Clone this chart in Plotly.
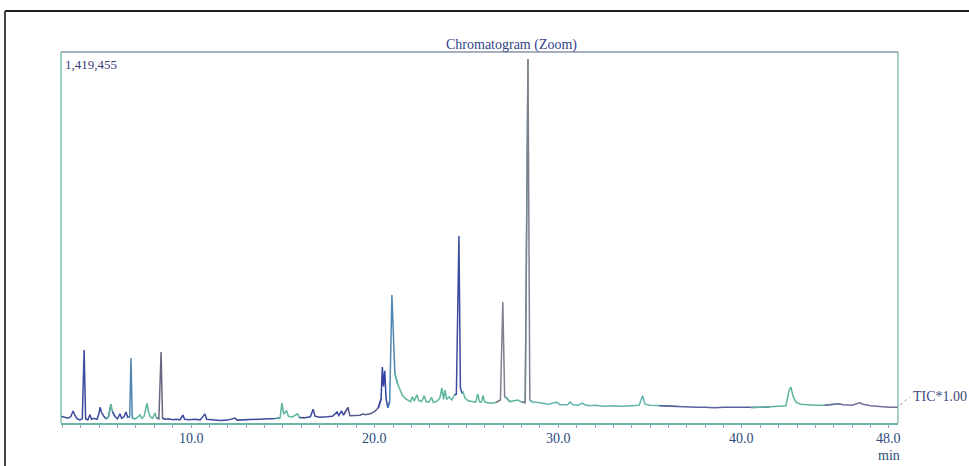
import plotly.graph_objects as go

# ---------------- data ----------------
# retention time in minutes
rt_min = [
    2.92, 3.1, 3.3, 3.45, 3.58, 3.68, 3.8, 3.95, 4.08, 4.18, 4.26, 4.38, 4.5, 4.58, 4.72, 4.88,
    4.98, 5.05, 5.12, 5.25, 5.38, 5.5, 5.64, 5.72, 5.85, 6.0, 6.13, 6.22, 6.35, 6.46, 6.55, 6.66,
    6.73, 6.8, 6.95, 7.1, 7.22, 7.32, 7.45, 7.6, 7.68, 7.78, 7.9, 8.04, 8.12, 8.25, 8.37, 8.45,
    8.6, 8.8, 9.0, 9.2, 9.4, 9.56, 9.65, 9.9, 10.2, 10.5, 10.76, 10.85, 11.2, 11.6, 12.0, 12.4,
    12.5, 13.0, 13.4, 13.8, 14.2, 14.6, 14.85, 14.95, 15.05, 15.2, 15.3, 15.5, 15.8, 15.9, 16.2,
    16.5, 16.65, 16.75, 17.0, 17.4, 17.7, 17.95, 18.05, 18.2, 18.3, 18.55, 18.65, 18.9, 19.2,
    19.36, 19.5, 19.8, 20.0, 20.2, 20.35, 20.42, 20.48, 20.55, 20.62, 20.72, 20.82, 20.94, 21.02,
    21.1, 21.25, 21.5, 21.7, 21.95, 22.05, 22.15, 22.3, 22.4, 22.55, 22.7, 22.8, 22.95, 23.1,
    23.2, 23.4, 23.55, 23.66, 23.75, 23.83, 23.92, 24.05, 24.2, 24.35, 24.45, 24.59, 24.67, 24.75,
    24.82, 24.92, 25.1, 25.3, 25.5, 25.62, 25.7, 25.82, 25.9, 26.0, 26.3, 26.6, 26.85, 26.98,
    27.08, 27.2, 27.35, 27.6, 27.8, 28.0, 28.2, 28.35, 28.45, 28.6, 28.9, 29.2, 29.5, 29.9, 30.1,
    30.5, 30.65, 30.8, 31.1, 31.3, 31.45, 31.7, 32.0, 32.5, 33.0, 33.5, 34.0, 34.4, 34.6, 34.72,
    35.0, 35.5, 36.0, 36.5, 37.0, 37.5, 38.0, 38.5, 39.0, 39.5, 40.0, 40.5, 41.0, 41.5, 42.0,
    42.4, 42.55, 42.66, 42.8, 42.95, 43.2, 43.5, 44.0, 44.5, 45.0, 45.3, 45.5, 46.0, 46.4, 46.6,
    47.0, 47.5, 48.0, 48.5,
]
# total ion current, thousands of counts
tic_k = [
    26, 22, 18, 24, 46, 29, 16, 12, 16, 279, 16, 12, 32, 14, 18, 14,
    34, 60, 42, 26, 16, 22, 72, 44, 26, 16, 35, 18, 24, 42, 22, 24,
    249, 19, 16, 22, 31, 18, 26, 76, 44, 24, 18, 38, 20, 16, 272, 18,
    14, 16, 12, 14, 12, 31, 14, 12, 14, 12, 35, 14, 12, 10, 11, 19,
    11, 12, 14, 13, 15, 17, 20, 76, 34, 48, 26, 22, 35, 21, 20,
    24, 53, 26, 22, 24, 26, 42, 29, 46, 30, 60, 28, 28, 30,
    34, 32, 36, 44, 58, 92, 214, 140, 200, 95, 58, 82, 490, 300,
    190, 150, 107, 92, 82, 100, 84, 108, 86, 82, 104, 82, 80, 98,
    78, 84, 95, 134, 90, 126, 90, 100, 88, 108, 110, 715, 134, 115,
    118, 95, 85, 82, 80, 111, 82, 80, 105, 80, 76, 78, 88, 463,
    100, 95, 82, 84, 88, 80, 78, 1393, 88, 80, 78, 74, 72, 80, 70,
    70, 80, 70, 68, 76, 70, 66, 68, 64, 66, 64, 66, 68, 104, 72,
    68, 66, 64, 64, 62, 60, 60, 58, 60, 60, 60, 58, 60, 60, 62,
    66, 120, 138, 100, 80, 72, 70, 68, 68, 70, 74, 70, 68, 77, 72,
    66, 62, 60, 60,
]
y_max = 1419455
tick_vals = [5, 10, 15, 20, 25, 30, 35, 40, 45, 48]
tick_text = ["", "10.0", "", "20.0", "", "30.0", "", "40.0", "", "48.0"]

# ---------------- style ----------------
BLUE = "#3c4b9e"
TEAL = "#5db59f"
GRAY = "#7f7f8e"
MIX = "#4f86b2"
PURP = "#5a5f9e"
segments = [
    (2.9, 4.3, BLUE), (4.3, 5.5, BLUE), (5.5, 5.8, TEAL), (5.8, 6.6, BLUE),
    (6.6, 6.9, MIX), (6.9, 8.2, TEAL), (8.2, 8.5, "#6a6680"), (8.5, 14.8, BLUE),
    (14.8, 16.0, TEAL), (16.0, 18.5, BLUE), (18.5, 20.3, "#555a8a"),
    (20.3, 20.8, "#3341a0"), (20.8, 21.2, MIX), (21.2, 24.4, TEAL),
    (24.4, 24.8, BLUE), (24.8, 26.8, TEAL), (26.8, 27.2, GRAY), (27.2, 28.2, TEAL),
    (28.2, 28.5, GRAY), (28.5, 36.0, "#62b3ac"), (36.0, 41.0, PURP),
    (41.0, 45.0, TEAL), (45.0, 48.6, "#6c6f9a"),
]

tic = [v * 1000 for v in tic_k]

fig = go.Figure()
for t0, t1, col in segments:
    idx = [i for i, t in enumerate(rt_min) if t0 <= t <= t1]
    if not idx:
        continue
    lo = max(idx[0] - 1, 0)
    hi = min(idx[-1] + 1, len(rt_min) - 1)
    fig.add_trace(go.Scatter(
        x=rt_min[lo:hi + 1], y=tic[lo:hi + 1], mode="lines",
        line=dict(color=col, width=1.5), hoverinfo="skip", showlegend=False,
    ))

# body margin is removed by post_script, so screen pixels == figure pixels
W, H = 969, 466
L, R, T, B = 61, 898, 52, 423
pw, ph = R - L, B - T


def px(x):
    return (x - L) / pw


def py(y):
    return (B - y) / ph


serif = "Liberation Serif, Times New Roman, serif"
fig.update_layout(
    width=W, height=H,
    margin=dict(l=L, r=W - R, t=T, b=H - B),
    paper_bgcolor="white", plot_bgcolor="white",
    showlegend=False,
    xaxis=dict(
        range=[2.92, 48.5], showgrid=False, zeroline=False,
        showline=True, linecolor="#6db3a6", linewidth=1.5,
        ticks="outside", ticklen=6, tickwidth=1, tickcolor="#7a9ab0",
        tickvals=tick_vals, ticktext=[""] * len(tick_vals), showticklabels=False,
        minor=dict(ticks="outside", ticklen=3, tickcolor="#8aa8b8", dtick=1, tick0=0),
    ),
    yaxis=dict(range=[0, y_max], showgrid=False, zeroline=False, showticklabels=False,
               ticks="", showline=False),
)

shapes = [
    # plot frame: top, left, right
    dict(type="line", xref="paper", yref="paper", x0=0, x1=1, y0=1, y1=1,
         line=dict(color="#8a96aa", width=1.3)),
    dict(type="line", xref="paper", yref="paper", x0=0, x1=0, y0=0, y1=1,
         line=dict(color="#6dbaa4", width=1.3)),
    dict(type="line", xref="paper", yref="paper", x0=1, x1=1, y0=0, y1=1,
         line=dict(color="#7fb5aa", width=1.3)),
    # outer scan border
    dict(type="line", xref="paper", yref="paper", x0=px(5), x1=px(969), y0=py(11), y1=py(11),
         line=dict(color="#1e1e1e", width=2)),
    dict(type="line", xref="paper", yref="paper", x0=px(5), x1=px(5), y0=py(11), y1=py(466),
         line=dict(color="#444444", width=2)),
    # TIC leader
    dict(type="line", xref="paper", yref="paper", x0=px(900), x1=px(910), y0=py(405), y1=py(397),
         line=dict(color="#9a9a9a", width=1, dash="dot")),
]
fig.update_layout(shapes=shapes)

for tv, tt in zip(tick_vals, tick_text):
    if tt:
        fig.add_annotation(text=tt, xref="x", yref="paper", x=tv, y=py(438),
                           xanchor="center", yanchor="middle", showarrow=False,
                           font=dict(family=serif, size=14, color="#2e4c7c"))

fig.add_annotation(text="Chromatogram (Zoom)", xref="paper", yref="paper",
                   x=px(511), y=py(45), xanchor="center", yanchor="middle", showarrow=False,
                   font=dict(family=serif, size=14, color="#33428a"))
fig.add_annotation(text="1,419,455", xref="paper", yref="paper",
                   x=px(63), y=py(65), xanchor="left", yanchor="middle", showarrow=False,
                   font=dict(family=serif, size=13, color="#3d3a78"))
fig.add_annotation(text="TIC*1.00", xref="paper", yref="paper",
                   x=px(911), y=py(396), xanchor="left", yanchor="middle", showarrow=False,
                   font=dict(family=serif, size=14, color="#3d4a7a"))
fig.add_annotation(text="min", xref="x", yref="paper",
                   x=48, y=py(456), xanchor="center", yanchor="middle", showarrow=False,
                   font=dict(family=serif, size=14, color="#2e4c7c"))

fig.write_html(
    "out.html",
    config={"displayModeBar": False, "staticPlot": True},
    post_script="document.body.style.margin='0';document.body.style.overflow='hidden';",
)
